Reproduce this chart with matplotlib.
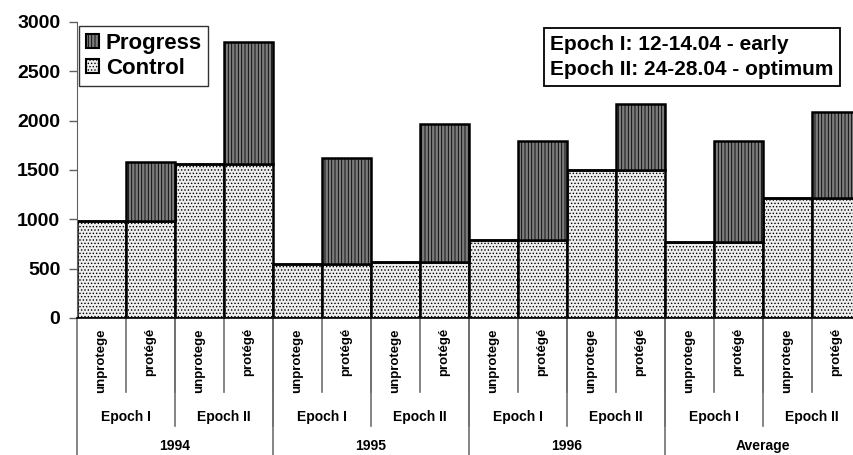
import matplotlib
matplotlib.use('Agg')
import matplotlib.pyplot as plt
from matplotlib.patches import Patch
import numpy as np

years = ['1994', '1995', '1996', 'Average']
epochs = ['Epoch I', 'Epoch II']
treatments = ['unprotege', 'protégé']
# control level per (year, epoch) group, total height of the protégé bar
control = [980, 1560, 550, 570, 790, 1500, 770, 1220]
protege_total = [1580, 2800, 1620, 1970, 1790, 2170, 1790, 2090]
yticks = [0, 500, 1000, 1500, 2000, 2500, 3000]

plt.rcParams['font.family'] = ['Liberation Sans', 'DejaVu Sans']
plt.rcParams['font.weight'] = 'bold'
plt.rcParams['hatch.linewidth'] = 0.6

W, H = 854, 455
fig = plt.figure(figsize=(W / 100, H / 100), dpi=100)
ax = fig.add_axes([77 / W, (H - 318) / H, 784 / W, 296 / H])

ctrl_vals = np.repeat(control, 2)
prog_vals = np.array([[0, t - c] for c, t in zip(control, protege_total)]).ravel()
x = np.arange(len(ctrl_vals))

ctrl_style = dict(facecolor='#eeeeee', edgecolor='black', hatch='.....')
prog_style = dict(facecolor='#7c7c7c', edgecolor='black', hatch='|||||')

ax.bar(x, ctrl_vals, width=1.0, linewidth=1.8, **ctrl_style)
ax.bar(x, prog_vals, bottom=ctrl_vals, width=1.0, linewidth=1.8, **prog_style)

ax.set_xlim(-0.5, len(x) - 0.5)
ax.set_ylim(0, 3000)
ax.set_yticks(yticks)
ax.tick_params(axis='y', labelsize=14, length=6, width=1, color='#606060', pad=6)
ax.set_xticks([])
for s in ['top', 'right']:
    ax.spines[s].set_visible(False)
ax.spines['left'].set_color('#606060')
ax.spines['bottom'].set_color('black')
ax.spines['bottom'].set_linewidth(1.2)
for lab in ax.get_yticklabels():
    lab.set_fontweight('bold')

trans = ax.get_xaxis_transform()
sep = dict(color='#707070', lw=1.2, transform=trans, clip_on=False)

# level 1: treatment labels
for i in range(len(x)):
    ax.text(x[i], -0.034, treatments[i % 2], rotation=90, ha='center', va='top',
            fontsize=9.5, fontweight='bold', transform=trans)
    ax.plot([i + 0.5, i + 0.5], [0, -0.25], **sep)
# level 2: epochs
for j in range(8):
    ax.text(2 * j + 0.5, -0.334, epochs[j % 2], ha='center', va='center',
            fontsize=10, fontweight='bold', transform=trans)
    ax.plot([2 * j + 1.5, 2 * j + 1.5], [0, -0.365], **sep)
# level 3: years
for k in range(4):
    ax.text(4 * k + 1.5, -0.456, years[k], ha='center', va='bottom',
            fontsize=10, fontweight='bold', transform=trans)
    ax.plot([4 * k + 3.5, 4 * k + 3.5], [0, -0.5], **sep)
ax.plot([-0.5, -0.5], [0, -0.5], **sep)

handles = [Patch(linewidth=1.5, label='Progress', **prog_style),
           Patch(linewidth=1.5, label='Control', **ctrl_style)]
leg = ax.legend(handles=handles, loc='upper left', bbox_to_anchor=(2 / 784, 1 - 4 / 296),
                fontsize=16, frameon=True, fancybox=False, edgecolor='black',
                handlelength=0.6, handleheight=0.6, handletextpad=0.3,
                borderpad=0.3, labelspacing=0.2, borderaxespad=0)
leg.get_frame().set_linewidth(1.0)
for t in leg.get_texts():
    t.set_fontweight('bold')

fig.text(550 / W, 1 - 57 / H, 'Epoch I: 12-14.04 - early\nEpoch II: 24-28.04 - optimum',
         fontsize=15, fontweight='bold', ha='left', va='center', linespacing=1.45,
         bbox=dict(boxstyle='square,pad=0.3', facecolor='white', edgecolor='black', lw=1.3))

fig.savefig('out.png', dpi=100)
